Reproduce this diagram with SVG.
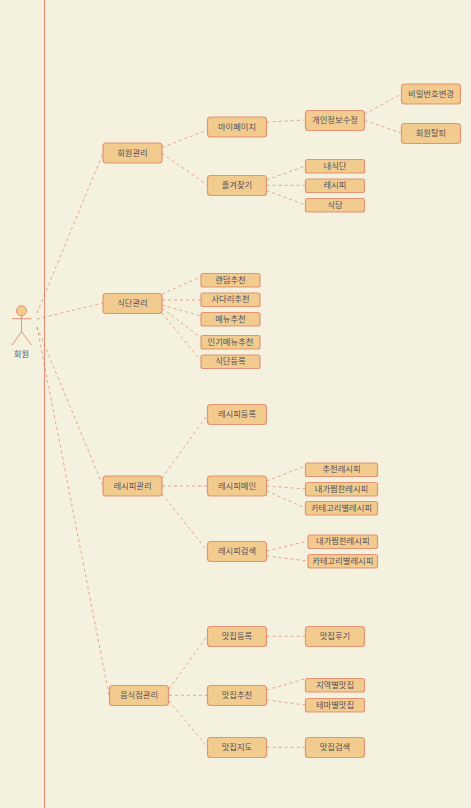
<svg xmlns="http://www.w3.org/2000/svg" width="471" height="808" viewBox="0 0 471 808">
<style>
.n rect{fill:#F2CC8F;stroke:#E07A5F;stroke-width:1.2;stroke-opacity:.75}
text{font-family:"Noto Sans CJK KR","Noto Sans",sans-serif;font-size:8.3px;fill:#393C56;fill-opacity:.9;text-anchor:middle;dominant-baseline:central}
.n text{transform:translateY(-.8px)}
.c line{stroke:#E07A5F;stroke-width:1;stroke-dasharray:3 3;stroke-opacity:.65}
.a{fill:none;stroke:#E07A5F;stroke-width:1;stroke-opacity:.8}
</style>
<rect width="471" height="808" fill="#F4F1DE"/>
<line id="boundary" x1="44.5" y1="0" x2="44.5" y2="808" stroke="#E07A5F" stroke-width="1.1" stroke-opacity=".8"/>
<g id="connectors" class="c">
<line x1="37" y1="313" x2="103" y2="153"/><line x1="37" y1="319" x2="103" y2="303"/><line x1="37" y1="327" x2="103" y2="486"/><line x1="37" y1="327" x2="109" y2="695"/>
<line x1="162" y1="147.5" x2="207.3" y2="130"/><line x1="162" y1="153.3" x2="207.3" y2="185"/>
<line x1="266.7" y1="122" x2="305.3" y2="120"/><line x1="364.7" y1="114" x2="401.3" y2="94"/><line x1="364.7" y1="120.5" x2="401.3" y2="133"/>
<line x1="266.7" y1="180" x2="305.3" y2="166"/><line x1="266.7" y1="185.3" x2="305.3" y2="185.3"/><line x1="266.7" y1="190.5" x2="305.3" y2="205"/>
<line x1="162" y1="294" x2="201" y2="276.7"/><line x1="162" y1="300" x2="201" y2="300"/><line x1="162" y1="305" x2="201" y2="316"/><line x1="162" y1="308" x2="201" y2="338"/><line x1="162" y1="313" x2="201" y2="361"/>
<line x1="162" y1="478" x2="207.3" y2="415"/><line x1="162" y1="486" x2="207.3" y2="486"/><line x1="162" y1="494" x2="207.3" y2="551"/>
<line x1="266.7" y1="481" x2="305.3" y2="466"/><line x1="266.7" y1="486" x2="305.3" y2="489"/><line x1="266.7" y1="491" x2="305.3" y2="508"/>
<line x1="266.7" y1="551" x2="308" y2="541"/><line x1="266.7" y1="556" x2="308" y2="561"/>
<line x1="169" y1="689" x2="207.3" y2="636"/><line x1="169" y1="695.3" x2="207.3" y2="695.3"/><line x1="169" y1="701" x2="207.3" y2="747"/>
<line x1="266.7" y1="636.3" x2="305.3" y2="636.3"/><line x1="266.7" y1="690" x2="305.3" y2="678.7"/><line x1="266.7" y1="700" x2="305.3" y2="705"/><line x1="266.7" y1="747.3" x2="305.3" y2="747.3"/>
</g>
<g id="actor"><circle cx="21.5" cy="310.8" r="5" fill="#F2CC8F" stroke="#E07A5F" stroke-width="1" stroke-opacity=".8"/><path class="a" d="M21.5 315.8V331.7M12 318.7H31.5M21.5 331.7L12 345M21.5 331.7L31.5 345"/><text x="21.5" y="353">회원</text></g>
<g id="n1" class="n"><rect x="103" y="143" width="59" height="20" rx="3"/><text x="132.5" y="152.5">회원관리</text></g>
<g id="n2" class="n"><rect x="207.5" y="117" width="59" height="20" rx="3"/><text x="237" y="126.5">마이페이지</text></g>
<g id="n3" class="n"><rect x="305.5" y="110.5" width="59" height="20" rx="3"/><text x="335" y="120">개인정보수정</text></g>
<g id="n4" class="n"><rect x="401.5" y="84" width="59" height="20" rx="3"/><text x="431" y="93.5">비밀번호변경</text></g>
<g id="n5" class="n"><rect x="401.5" y="123.5" width="59" height="20" rx="3"/><text x="431" y="133">회원탈퇴</text></g>
<g id="n6" class="n"><rect x="207.5" y="175.5" width="59" height="20" rx="3"/><text x="237" y="185">즐겨찾기</text></g>
<g id="n7" class="n"><rect x="305.5" y="159.5" width="59" height="13.5" rx="2"/><text x="335" y="165.8">내식단</text></g>
<g id="n8" class="n"><rect x="305.5" y="179" width="59" height="13.5" rx="2"/><text x="335" y="185.3">레시피</text></g>
<g id="n9" class="n"><rect x="305.5" y="198.5" width="59" height="13.5" rx="2"/><text x="335" y="204.8">식당</text></g>
<g id="n10" class="n"><rect x="103" y="293.5" width="59" height="20" rx="3"/><text x="132.5" y="303">식단관리</text></g>
<g id="n11" class="n"><rect x="201" y="273.5" width="59" height="13.5" rx="2"/><text x="230.5" y="279.8">랜덤추천</text></g>
<g id="n12" class="n"><rect x="201" y="293" width="59" height="13.5" rx="2"/><text x="230.5" y="299.3">사다리추천</text></g>
<g id="n13" class="n"><rect x="201" y="312.5" width="59" height="13.5" rx="2"/><text x="230.5" y="318.8">메뉴추천</text></g>
<g id="n14" class="n"><rect x="201" y="335.5" width="59" height="13.5" rx="2"/><text x="230.5" y="341.8">인기메뉴추천</text></g>
<g id="n15" class="n"><rect x="201" y="355" width="59" height="13.5" rx="2"/><text x="230.5" y="361.3">식단등록</text></g>
<g id="n16" class="n"><rect x="103" y="476" width="59" height="20" rx="3"/><text x="132.5" y="485.5">레시피관리</text></g>
<g id="n17" class="n"><rect x="207.5" y="404.5" width="59" height="20" rx="3"/><text x="237" y="414">레시피등록</text></g>
<g id="n18" class="n"><rect x="207.5" y="476" width="59" height="20" rx="3"/><text x="237" y="485.5">레시피메인</text></g>
<g id="n19" class="n"><rect x="207.5" y="541.5" width="59" height="20" rx="3"/><text x="237" y="551">레시피검색</text></g>
<g id="n20" class="n"><rect x="305.5" y="463" width="72" height="13.5" rx="2"/><text x="341.5" y="469.3">추천레시피</text></g>
<g id="n21" class="n"><rect x="305.5" y="482.5" width="72" height="13.5" rx="2"/><text x="341.5" y="488.8">내가찜한레시피</text></g>
<g id="n22" class="n"><rect x="305.5" y="501.5" width="72" height="13.5" rx="2"/><text x="341.5" y="507.8">카테고리별레시피</text></g>
<g id="n23" class="n"><rect x="308" y="535" width="69.5" height="13.5" rx="2"/><text x="342.8" y="541.3">내가찜한레시피</text></g>
<g id="n24" class="n"><rect x="308" y="554.5" width="69.5" height="13.5" rx="2"/><text x="342.8" y="560.8">카테고리별레시피</text></g>
<g id="n25" class="n"><rect x="109.5" y="685.5" width="59" height="20" rx="3"/><text x="139" y="695">음식점관리</text></g>
<g id="n26" class="n"><rect x="207.5" y="626.5" width="59" height="20" rx="3"/><text x="237" y="636">맛집등록</text></g>
<g id="n27" class="n"><rect x="305.5" y="626.5" width="59" height="20" rx="3"/><text x="335" y="636">맛집후기</text></g>
<g id="n28" class="n"><rect x="207.5" y="685.5" width="59" height="20" rx="3"/><text x="237" y="695">맛집추천</text></g>
<g id="n29" class="n"><rect x="305.5" y="678.5" width="59" height="13.5" rx="2"/><text x="335" y="684.8">지역별맛집</text></g>
<g id="n30" class="n"><rect x="305.5" y="698.5" width="59" height="13.5" rx="2"/><text x="335" y="704.8">테마별맛집</text></g>
<g id="n31" class="n"><rect x="207.5" y="737.5" width="59" height="20" rx="3"/><text x="237" y="747">맛집지도</text></g>
<g id="n32" class="n"><rect x="305.5" y="737.5" width="59" height="20" rx="3"/><text x="335" y="747">맛집검색</text></g>
</svg>
